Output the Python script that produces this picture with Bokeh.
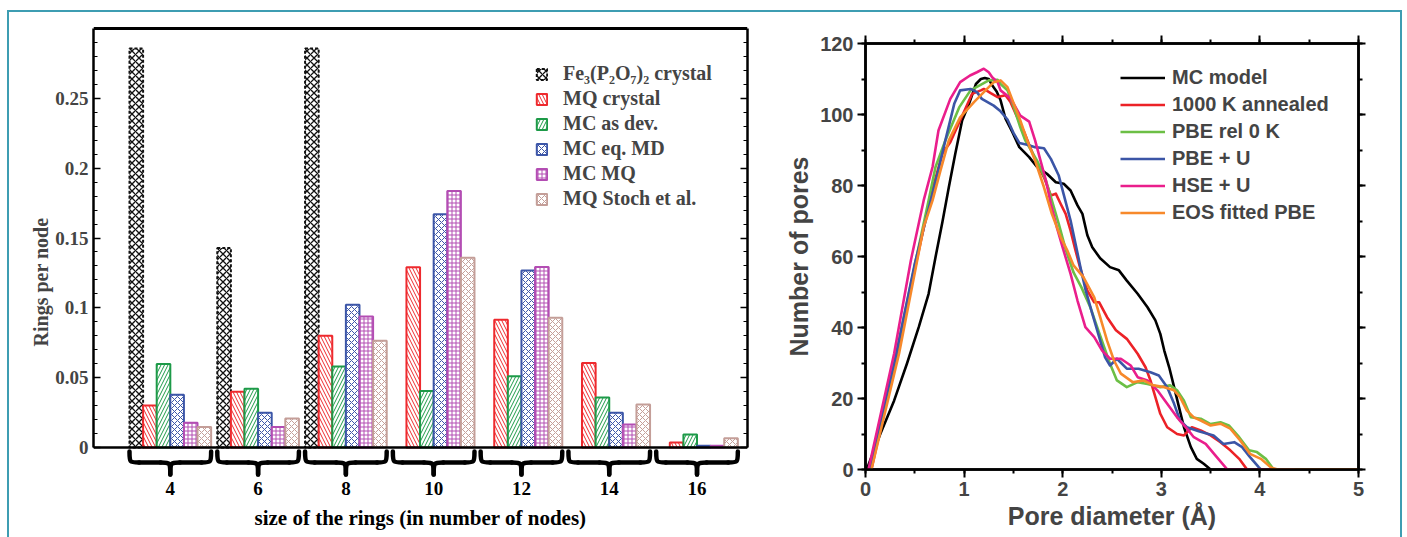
from bokeh.plotting import figure
from bokeh.layouts import row, column
from bokeh.models import (Range1d, LinearAxis, FixedTicker, SingleIntervalTicker,
                          Legend, LegendItem, CustomJSTickFormatter, Span)
from bokeh.core.properties import value
from bokeh.embed import file_html
from bokeh.resources import INLINE

# ---------------- ring statistics (left panel) ----------------
ring_sizes = [4, 6, 8, 10, 12, 14, 16]
ring_labels = ["4", "6", "8", "10", "12", "14", "16"]

fe_crystal = [0.2857, 0.1429, 0.2857, 0.0, 0.0, 0.0, 0.0]
mq_crystal = [0.030, 0.040, 0.080, 0.129, 0.0915, 0.0605, 0.0035]
mc_as_dev = [0.0598, 0.042, 0.058, 0.0405, 0.051, 0.0358, 0.0093]
mc_eq_md = [0.0377, 0.0248, 0.1022, 0.1670, 0.1268, 0.0248, 0.0012]
mc_mq = [0.0177, 0.0146, 0.0938, 0.1836, 0.1292, 0.0165, 0.0012]
mq_stoch = [0.0146, 0.0208, 0.0764, 0.1359, 0.0929, 0.0308, 0.0067]

bar_series = [
    ("Fe\u2083(P\u2082O\u2087)\u2082 crystal", fe_crystal, "#111111", "x", 7, 1.3),
    ("MQ crystal", mq_crystal, "#ee2a2e", "\\", 7, 1.0),
    ("MC as dev.", mc_as_dev, "#1d9a48", "/", 7, 1.0),
    ("MC eq. MD", mc_eq_md, "#3c56a8", "x", 6, 1.0),
    ("MC MQ", mc_mq, "#b34db3", "+", 4, 1.0),
    ("MQ Stoch et al.", mq_stoch, "#c49e98", "x", 6, 1.0),
]

# ---------------- pore size distributions (right panel) ----------------
mc_model = [(0.0, 0.0), (0.02, 0.6), (0.15, 10.0), (0.29, 19.4), (0.42, 29.8), (0.54, 40.1),
            (0.64, 49.5), (0.71, 59.8), (0.78, 69.7), (0.845, 79.5), (0.91, 88.9), (0.98, 98.3),
            (1.05, 103.0), (1.12, 108.6), (1.17, 110.0), (1.21, 110.3), (1.25, 110.0), (1.29, 108.0),
            (1.33, 106.5), (1.37, 104.0), (1.42, 98.8), (1.49, 95.0), (1.56, 90.8), (1.66, 88.0),
            (1.74, 85.2), (1.84, 83.3), (1.93, 80.9), (2.01, 80.5), (2.08, 78.6), (2.15, 74.4),
            (2.20, 72.0), (2.25, 66.0), (2.30, 62.6), (2.38, 59.5), (2.48, 57.0), (2.57, 56.1),
            (2.65, 53.2), (2.76, 49.5), (2.86, 45.7), (2.94, 42.0), (2.99, 38.2), (3.03, 33.5),
            (3.08, 28.8), (3.13, 23.2), (3.18, 17.5), (3.23, 11.9), (3.30, 6.3), (3.36, 3.0),
            (3.43, 1.6), (3.50, 0.0)]

annealed_1000k = [(0.06, 0.0), (0.30, 30.0), (0.52, 59.0), (0.66, 77.0), (0.78, 89.0), (0.86, 92.2),
                  (1.08, 105.8), (1.17, 106.8), (1.20, 107.2), (1.27, 106.0), (1.34, 104.9),
                  (1.42, 105.4), (1.47, 103.5), (1.54, 99.2), (1.61, 95.0), (1.67, 90.8), (1.74, 86.1),
                  (1.81, 82.3), (1.88, 77.2), (1.93, 77.7), (1.98, 74.8), (2.03, 72.0), (2.08, 67.3),
                  (2.13, 61.7), (2.18, 56.5), (2.25, 50.4), (2.32, 47.1), (2.37, 47.1), (2.45, 42.9),
                  (2.54, 39.2), (2.65, 36.8), (2.76, 32.6), (2.84, 28.8), (2.89, 25.1), (2.94, 20.4),
                  (2.99, 15.7), (3.06, 11.9), (3.16, 10.0), (3.23, 9.6), (3.31, 11.9), (3.40, 11.0),
                  (3.50, 9.6), (3.60, 7.7), (3.70, 5.4), (3.79, 3.0), (3.87, 0.0)]

pbe_rel_0k = [(0.05, 0.0), (0.30, 31.0), (0.51, 58.9), (0.64, 75.8), (0.71, 85.2), (0.81, 92.7),
              (0.95, 102.0), (1.065, 106.8), (1.25, 109.6), (1.34, 109.8), (1.37, 108.6), (1.44, 106.8),
              (1.505, 102.0), (1.57, 96.4), (1.62, 92.7), (1.74, 87.0), (1.83, 81.4), (1.89, 75.8),
              (1.96, 69.2), (2.03, 62.0), (2.11, 55.5), (2.19, 51.3), (2.28, 45.7), (2.35, 40.1),
              (2.42, 34.5), (2.48, 29.8), (2.55, 25.1), (2.65, 23.2), (2.76, 24.6), (2.86, 24.1),
              (2.99, 23.2), (3.09, 23.7), (3.16, 22.3), (3.23, 19.4), (3.30, 14.7), (3.40, 14.3),
              (3.50, 12.8), (3.60, 13.3), (3.685, 12.4), (3.79, 9.1), (3.89, 5.4), (3.97, 4.9),
              (4.06, 3.0), (4.14, 0.0)]

pbe_u = [(0.04, 0.0), (0.30, 31.0), (0.50, 58.0), (0.73, 83.3), (0.81, 92.7), (0.90, 103.0),
         (0.96, 106.8), (1.065, 107.2), (1.13, 106.3), (1.18, 104.4), (1.30, 102.5), (1.37, 100.9),
         (1.44, 98.6), (1.505, 94.6), (1.56, 92.0), (1.64, 91.5), (1.72, 90.8), (1.81, 90.5),
         (1.88, 87.5), (1.96, 82.8), (2.01, 77.5), (2.08, 70.1), (2.13, 63.6), (2.18, 57.0),
         (2.23, 50.8), (2.30, 43.9), (2.37, 37.3), (2.43, 31.6), (2.48, 29.3), (2.55, 31.2),
         (2.65, 28.4), (2.77, 28.4), (2.89, 27.4), (2.975, 26.5), (3.06, 23.2), (3.13, 18.5),
         (3.19, 13.8), (3.26, 11.9), (3.38, 10.8), (3.53, 9.6), (3.63, 7.2), (3.74, 7.7),
         (3.82, 6.3), (3.90, 3.5), (3.99, 0.6), (4.01, 0.0)]

hse_u = [(0.03, 0.0), (0.29, 32.6), (0.46, 58.9), (0.59, 75.8), (0.68, 85.2), (0.74, 95.5),
         (0.86, 104.4), (0.96, 109.1), (1.06, 111.0), (1.13, 111.9), (1.20, 112.9), (1.25, 111.9),
         (1.285, 110.5), (1.34, 109.1), (1.37, 106.8), (1.47, 104.6), (1.57, 99.7), (1.66, 98.0),
         (1.72, 92.7), (1.775, 87.0), (1.83, 81.4), (1.88, 74.8), (1.94, 68.3), (2.00, 62.5),
         (2.08, 55.1), (2.15, 47.6), (2.23, 40.1), (2.32, 37.3), (2.40, 33.5), (2.48, 31.2),
         (2.59, 31.2), (2.69, 29.3), (2.76, 26.0), (2.86, 25.1), (2.96, 22.3), (3.06, 18.5),
         (3.16, 14.7), (3.26, 11.5), (3.33, 9.1), (3.45, 7.2), (3.55, 3.9), (3.67, 0.0), (4.35, 0.0)]

eos_fitted_pbe = [(0.06, 0.0), (0.34, 32.6), (0.59, 68.3), (0.68, 75.8), (0.76, 84.2), (0.845, 92.7),
                  (0.96, 99.2), (1.10, 103.5), (1.20, 106.3), (1.30, 109.1), (1.37, 109.6), (1.44, 107.7),
                  (1.505, 103.0), (1.57, 98.3), (1.64, 92.7), (1.72, 87.0), (1.81, 79.5), (1.89, 72.0),
                  (1.98, 65.4), (2.05, 61.5), (2.11, 57.5), (2.21, 54.2), (2.32, 48.5), (2.38, 42.9),
                  (2.45, 36.3), (2.52, 30.7), (2.59, 27.0), (2.71, 24.6), (2.82, 25.1), (2.92, 23.7),
                  (3.03, 23.2), (3.13, 22.3), (3.19, 20.4), (3.26, 16.6), (3.33, 14.7), (3.40, 13.8),
                  (3.50, 12.4), (3.60, 12.9), (3.70, 11.5), (3.80, 8.2), (3.90, 4.4), (4.01, 3.0),
                  (4.11, 0.6), (4.18, 0.0), (5.0, 0.0)]

pore_series = [
    ("MC model", mc_model, "#000000"),
    ("1000 K annealed", annealed_1000k, "#ec2227"),
    ("PBE rel 0 K", pbe_rel_0k, "#6cbf45"),
    ("PBE + U", pbe_u, "#3b55a6"),
    ("HSE + U", hse_u, "#ea1e8c"),
    ("EOS fitted PBE", eos_fitted_pbe, "#f7892b"),
]

SERIF = "Liberation Serif"
SANS = "Liberation Sans"
TEAL = "#3d9db2"

# ================= left panel: bar chart =================
# the plotting frame continues below zero so that the group braces and
# ring-size labels can be drawn in data space under the bars
Y_TOP = 0.3
BAR_PX = 419                      # height of the bar area in pixels
PX = Y_TOP / BAR_PX               # data units per pixel
STRIP_PX = 90                     # height of the brace / label strip
HEAD_PX = 2                       # room above the top frame line
y_low = -STRIP_PX * PX
y_high = Y_TOP + HEAD_PX * PX

bar_w = 0.31
offsets = [(i - 2.5) * bar_w for i in range(6)]

p1 = figure(width=766, height=525, x_range=Range1d(2.25, 17.15), y_range=Range1d(y_low, y_high),
            output_backend="svg", toolbar_location=None, x_axis_location=None,
            min_border_left=84, min_border_right=28, min_border_top=16 - HEAD_PX,
            min_border_bottom=0)
p1.grid.visible = False
p1.outline_line_color = None
p1.background_fill_color = "white"

left_ticker = FixedTicker(ticks=[0, 0.05, 0.1, 0.15, 0.2, 0.25],
                          minor_ticks=[k / 100 for k in range(0, 30)])
num_fmt = CustomJSTickFormatter(code="return String(Number(tick.toFixed(2)))")
yax = p1.yaxis[0]
yax.ticker = left_ticker
yax.formatter = num_fmt
yax.bounds = (0, Y_TOP)
yax.axis_line_width = 2.5
yax.major_tick_in = 7
yax.major_tick_out = 0
yax.minor_tick_in = 4
yax.minor_tick_out = 0
yax.major_tick_line_width = 1.5
yax.minor_tick_line_width = 1.2
yax.major_label_text_font = SERIF
yax.major_label_text_font_style = "bold"
yax.major_label_text_font_size = "19px"
yax.major_label_standoff = 5
yax.axis_label = "Rings per node"
yax.axis_label_text_font = SERIF
yax.axis_label_text_font_style = "bold"
yax.axis_label_text_font_size = "20px"
yax.axis_label_standoff = 0

blank = CustomJSTickFormatter(code="return ''")
rax = LinearAxis(ticker=left_ticker, formatter=blank, bounds=(0, Y_TOP),
                 major_tick_in=7, major_tick_out=0, minor_tick_in=4, minor_tick_out=0,
                 axis_line_width=2.5, major_tick_line_width=1.5, minor_tick_line_width=1.2,
                 major_label_standoff=0)
p1.add_layout(rax, "right")
# top and bottom edges of the bar frame
p1.add_layout(Span(location=Y_TOP, dimension="width", line_color="black", line_width=3))
p1.add_layout(Span(location=0, dimension="width", line_color="black", line_width=2.5))

legend_items = []
for k, (name, vals, color, hatch, scale, weight) in enumerate(bar_series):
    xs = [g + offsets[k] for g, v in zip(ring_sizes, vals) if v > 0]
    tops = [v for v in vals if v > 0]
    dash = "3 2" if k == 0 else "solid"
    r = p1.vbar(x=xs, top=tops, bottom=0, width=bar_w, fill_color="white",
                line_color=color, line_width=2, line_dash=dash,
                hatch_pattern=hatch, hatch_color=color, hatch_scale=scale, hatch_weight=weight)
    legend_items.append(LegendItem(label=name, renderers=[r]))

leg1 = Legend(items=legend_items, location=(442, 236 + STRIP_PX), padding=0, margin=0,
              spacing=0, label_height=25, glyph_width=13, glyph_height=14,
              label_standoff=15, border_line_color=None, background_fill_alpha=0,
              label_text_font=SERIF, label_text_font_style="bold",
              label_text_font_size="20px")
p1.add_layout(leg1)

# curly braces grouping the bars of each ring size
y_end, y_mid, y_tip = -4 * PX, -15 * PX, -27 * PX
hook = 0.22
half = 3 * bar_w
bz = dict(x0=[], y0=[], x1=[], y1=[], cx0=[], cy0=[], cx1=[], cy1=[])
seg_x, seg_y = [], []
for g in ring_sizes:
    xl, xr = g - half, g + half
    for (a0, b0, ca, cb, a1, b1) in [
        (xl, y_end, xl, y_mid, xl + hook, y_mid),
        (g - hook, y_mid, g, y_mid, g, y_tip),
        (g + hook, y_mid, g, y_mid, g, y_tip),
        (xr, y_end, xr, y_mid, xr - hook, y_mid),
    ]:
        bz["x0"].append(a0); bz["y0"].append(b0)
        bz["x1"].append(a1); bz["y1"].append(b1)
        bz["cx0"].append(ca); bz["cy0"].append(cb)
        bz["cx1"].append(ca); bz["cy1"].append(cb)
    seg_x += [[xl + hook, g - hook], [g + hook, xr - hook]]
    seg_y += [[y_mid, y_mid], [y_mid, y_mid]]

p1.bezier(line_color="black", line_width=4.5, line_cap="round", **bz)
p1.multi_line(xs=seg_x, ys=seg_y, line_color="black", line_width=4.5, line_cap="round")
p1.text(x=ring_sizes, y=[-41 * PX] * len(ring_sizes), text=ring_labels,
        text_font=value(SERIF), text_font_style="bold", text_font_size="19px",
        text_align="center", text_baseline="middle", text_color="black")
p1.text(x=[(p1.x_range.start + p1.x_range.end) / 2], y=[-70 * PX],
        text=["size of the rings (in number of nodes)"],
        text_font=value(SERIF), text_font_style="bold", text_font_size="21px",
        text_align="center", text_baseline="middle", text_color="black")

# ================= right panel: pore size distribution =================
p3 = figure(width=625, height=525, x_range=Range1d(0, 5), y_range=Range1d(0, 120),
            output_backend="svg", toolbar_location=None,
            min_border_left=90, min_border_right=42, min_border_top=31, min_border_bottom=68)
p3.grid.visible = False
p3.outline_line_color = "black"
p3.outline_line_width = 2.5

xt = SingleIntervalTicker(interval=1, num_minor_ticks=2)
yt = SingleIntervalTicker(interval=20, num_minor_ticks=2)
for ax, tk in ((p3.xaxis[0], xt), (p3.yaxis[0], yt)):
    ax.ticker = tk
    ax.axis_line_width = 2.5
    ax.major_tick_out = 8
    ax.major_tick_in = 0
    ax.minor_tick_out = 4
    ax.minor_tick_in = 0
    ax.major_tick_line_width = 2
    ax.minor_tick_line_width = 2
    ax.major_label_text_font = SANS
    ax.major_label_text_font_style = "bold"
    ax.major_label_text_font_size = "20px"
    ax.axis_label_text_font = SANS
    ax.axis_label_text_font_style = "bold"
    ax.axis_label_text_font_size = "25px"
p3.xaxis[0].major_label_standoff = 4
p3.xaxis[0].axis_label_standoff = 3
p3.yaxis[0].major_label_standoff = 4
p3.yaxis[0].axis_label_standoff = 4
p3.xaxis[0].axis_label = "Pore diameter (\u00c5)"
p3.yaxis[0].axis_label = "Number of pores"

top_ax = LinearAxis(ticker=xt, formatter=blank, major_tick_out=8, major_tick_in=0,
                    minor_tick_out=4, minor_tick_in=0, axis_line_width=2.5,
                    major_tick_line_width=2, minor_tick_line_width=2, major_label_standoff=0)
right_ax = LinearAxis(ticker=yt, formatter=blank, major_tick_out=7, major_tick_in=0,
                      minor_tick_out=4, minor_tick_in=0, axis_line_width=2.5,
                      major_tick_line_width=2, minor_tick_line_width=2, major_label_standoff=0)
p3.add_layout(top_ax, "above")
p3.add_layout(right_ax, "right")

pore_items = []
for name, pts, color in pore_series:
    xs = [pt[0] for pt in pts]
    ys = [pt[1] for pt in pts]
    r = p3.line(xs, ys, line_color=color, line_width=2.6, line_join="round")
    pore_items.append(LegendItem(label=name, renderers=[r]))

leg3 = Legend(items=pore_items, location=(255, 243), padding=0, margin=0, spacing=0,
              label_height=27, glyph_height=27, glyph_width=45, label_standoff=7,
              border_line_color=None, background_fill_alpha=0,
              label_text_font=SANS, label_text_font_style="bold", label_text_font_size="20px")
p3.add_layout(leg3)

# each panel sits in its own column so the two frames keep their own sizes
layout = row(column(p1), column(p3), spacing=0, margin=(10, 0, 0, 7),
             styles={"border-left": f"2px solid {TEAL}", "border-top": f"2px solid {TEAL}",
                     "border-right": f"2px solid {TEAL}", "background-color": "white"})

with open("out.html", "w") as f:
    f.write(file_html(layout, INLINE))
